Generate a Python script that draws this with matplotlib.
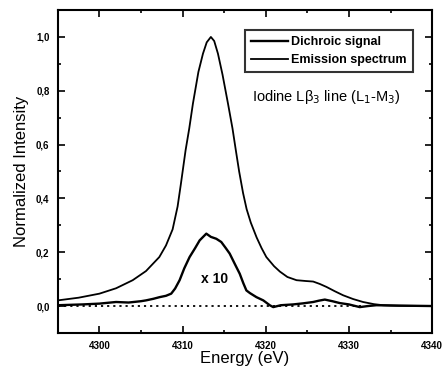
import matplotlib
matplotlib.use("Agg")
import matplotlib.pyplot as plt
from matplotlib.ticker import MultipleLocator

emission_e = [4295.0, 4297.5, 4300.0, 4302.0, 4304.0, 4305.6, 4307.2, 4308.0, 4308.8, 4309.4,
              4309.8, 4310.36, 4310.8, 4311.24, 4311.9, 4312.45, 4312.9, 4313.4, 4313.8, 4314.25,
              4314.8, 4315.46, 4316.0, 4316.4, 4316.8, 4317.27, 4317.7, 4318.2, 4318.9, 4319.5,
              4320.07, 4321.0, 4321.7, 4322.6, 4323.7, 4324.8, 4325.7, 4326.5, 4327.3, 4328.3,
              4329.3, 4330.5, 4331.7, 4333.0, 4334.1, 4336.0, 4340.0]
emission_v = [0.021, 0.031, 0.046, 0.066, 0.096, 0.13, 0.182, 0.225, 0.285, 0.37,
              0.455, 0.579, 0.66, 0.752, 0.87, 0.938, 0.98, 1.0, 0.985, 0.938,
              0.86, 0.752, 0.66, 0.579, 0.50, 0.42, 0.36, 0.31, 0.255, 0.215,
              0.182, 0.148, 0.128, 0.108, 0.096, 0.093, 0.091, 0.082, 0.071, 0.055,
              0.040, 0.026, 0.015, 0.007, 0.003, 0.001, 0.0]

dichroic_e = [4295.0, 4298.0, 4300.0, 4302.0, 4303.5, 4305.0, 4305.6, 4306.5, 4307.23, 4308.0,
              4308.63, 4309.1, 4309.64, 4310.2, 4310.84, 4311.5, 4312.05, 4312.85, 4313.4, 4314.05,
              4314.65, 4315.2, 4315.66, 4316.3, 4316.87, 4317.3, 4317.67, 4318.1, 4318.88, 4319.7,
              4320.48, 4320.9, 4321.8, 4323.3, 4324.5, 4325.7, 4326.4, 4327.1, 4328.0, 4328.9,
              4330.0, 4331.3, 4332.3, 4333.3, 4335.0, 4340.0]
dichroic_v = [0.003, 0.006, 0.009, 0.015, 0.013, 0.018, 0.021, 0.027, 0.033, 0.038,
              0.046, 0.065, 0.096, 0.14, 0.182, 0.215, 0.244, 0.269, 0.257, 0.25,
              0.238, 0.215, 0.195, 0.155, 0.12, 0.085, 0.058, 0.048, 0.033, 0.021,
              0.003, -0.004, 0.003, 0.006, 0.010, 0.015, 0.020, 0.024, 0.018, 0.011,
              0.006, -0.004, 0.000, 0.003, 0.002, 0.0]

zero_e = [4295.0, 4331.7]
zero_v = [0.0, 0.0]

xticks = [4300, 4310, 4320, 4330, 4340]
yticks = [0.0, 0.2, 0.4, 0.6, 0.8, 1.0]
ytick_labels = ["0,0", "0,2", "0,4", "0,6", "0,8", "1,0"]

plt.rcParams['font.family'] = ['Liberation Sans', 'DejaVu Sans']

fig = plt.figure(figsize=(4.45, 3.72), dpi=100)
ax = fig.add_axes([0.130, 0.105, 0.841, 0.868])

ax.plot(zero_e, zero_v, color='black', linestyle=(0, (1.2, 2.2)), linewidth=1.3)
ax.plot(dichroic_e, dichroic_v, color='black', linewidth=1.7, label='Dichroic signal')
ax.plot(emission_e, emission_v, color='black', linewidth=1.3, label='Emission spectrum')

ax.set_xlim(4295, 4340)
ax.set_ylim(-0.1, 1.1)
ax.set_xticks(xticks)
ax.set_xticklabels([str(t) for t in xticks], fontsize=7, fontweight='bold')
ax.set_yticks(yticks)
ax.set_yticklabels(ytick_labels, fontsize=7, fontweight='bold')
ax.xaxis.set_minor_locator(MultipleLocator(5))
ax.yaxis.set_minor_locator(MultipleLocator(0.1))
ax.tick_params(which='both', direction='in', top=True, right=True, width=1.2)
ax.tick_params(which='major', length=5, pad=6)
ax.tick_params(which='minor', length=2.5)
for s in ax.spines.values():
    s.set_linewidth(1.5)

ax.set_xlabel('Energy (eV)', fontsize=12, labelpad=0)
ax.set_ylabel('Normalized Intensity', fontsize=12, labelpad=5)

leg = ax.legend(loc='upper right', bbox_to_anchor=(0.949, 0.938), fontsize=9,
                frameon=True, fancybox=False, edgecolor='black', handlelength=2.9,
                borderpad=0.5, labelspacing=0.45, handletextpad=0.3, borderaxespad=0)
leg.get_frame().set_linewidth(1.5)
for t in leg.get_texts():
    t.set_fontweight('bold')

ax.text(4327.3, 0.775, 'Iodine Lβ$_3$ line (L$_1$-M$_3$)', fontsize=10.5,
        ha='center', va='center')
ax.text(4313.9, 0.10, 'x 10', fontsize=10, ha='center', va='center', fontweight='bold')

fig.savefig('out.png', dpi=100)
